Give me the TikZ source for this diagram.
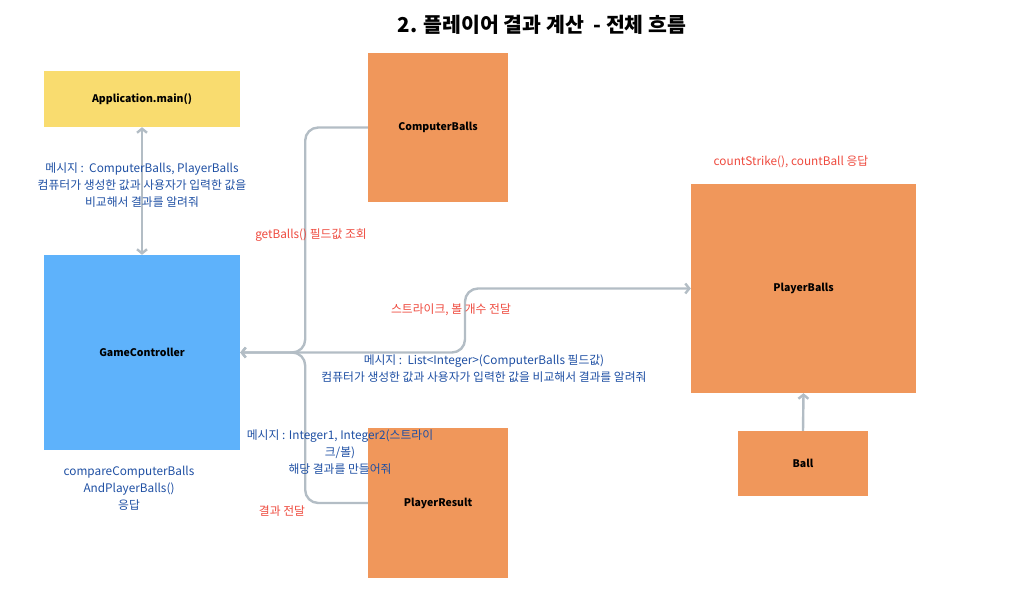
\documentclass[tikz,border=0pt]{standalone}
\usepackage{fontspec}
\setmainfont{Noto Sans CJK KR}
\usetikzlibrary{arrows.meta}

\definecolor{appyellow}{HTML}{F9DC6F}
\definecolor{objorange}{HTML}{F0975B}
\definecolor{ctrlblue}{HTML}{5EB2FB}
\definecolor{linegray}{HTML}{B3BDC5}
\definecolor{msgblue}{HTML}{1E4FA3}
\definecolor{msgred}{HTML}{EE4A3E}

\begin{document}
\begin{tikzpicture}[x=1pt,y=-1pt]
			\tikzset{box/.style={inner sep=0pt,font=\fontsize{10.5}{12}\selectfont\bfseries}}
			\tikzset{msg/.style={align=center,text=msgblue,font=\fontsize{11.8}{17}\selectfont}}
			\tikzset{reply/.style={align=center,text=msgred,font=\fontsize{11.8}{17}\selectfont}}
			\tikzset{flow/.style={draw=linegray,line width=2.4pt,rounded corners=13pt,-{Straight Barb[length=4pt,width=10pt]}}}
			\useasboundingbox (0,0) rectangle (1011,596);
			% title
			\node (title) at (542,25) {\fontsize{20.5}{24}\selectfont\bfseries 2. 플레이어 결과 계산\ \ - 전체 흐름};
			% objects
			\node[box,fill=appyellow,minimum width=196pt,minimum height=56pt] (app) at (142,99) {Application.main()};
			\node[box,fill=ctrlblue,minimum width=196pt,minimum height=195pt] (gc) at (142,352.5) {GameController};
			\node[box,fill=objorange,minimum width=140pt,minimum height=149pt] (cb) at (438,127.5) {ComputerBalls};
			\node[box,fill=objorange,minimum width=140pt,minimum height=150pt] (pr) at (438,503) {PlayerResult};
			\node[box,fill=objorange,minimum width=225pt,minimum height=209pt] (pb) at (803.5,288.5) {PlayerBalls};
			\node[box,fill=objorange,minimum width=130pt,minimum height=65pt] (ball) at (803,463.5) {Ball};
			\coordinate (hub) at (290,352.5);
			% connectors
			\draw[flow,{Straight Barb[length=4pt,width=10pt]}-{Straight Barb[length=4pt,width=10pt]}] (app.south) -- (gc.north);
			\draw[flow] (cb.west) -| ([xshift=65pt]gc.east) -- (gc.east);
			\draw[flow] (pr.west) -| ([xshift=65pt]gc.east) -- (gc.east);
			\draw[flow] (hub) -- (465,352.5) |- (pb.west);
			\draw[flow] (ball.north) -- (pb.south);
			% labels
			\node[msg] (appmsg) at (142,185) {메시지 :\ \ ComputerBalls, PlayerBalls\\컴퓨터가 생성한 값과 사용자가 입력한 값을\\비교해서 결과를 알려줘};
			\node[msg] (gcreply) at (129,488) {compareComputerBalls\\AndPlayerBalls()\\응답};
			\node[reply] (cbreply) at (311,235) {getBalls() 필드값 조회};
			\node[reply] (pbmsgtop) at (451,310) {스트라이크, 볼 개수 전달};
			\node[msg] (pbmsg) at (484,368.5) {메시지 :\ \ List<Integer>(ComputerBalls 필드값)\\컴퓨터가 생성한 값과 사용자가 입력한 값을 비교해서 결과를 알려줘};
			\node[msg] (prmsg) at (340,452.5) {메시지 : Integer1, Integer2(스트라이\\크/볼)\\해당 결과를 만들어줘};
			\node[reply] (prreply) at (282,511) {결과 전달};
			\node[reply] (pbreply) at (791,162) {countStrike(), countBall 응답};
		\end{tikzpicture}
\end{document}
